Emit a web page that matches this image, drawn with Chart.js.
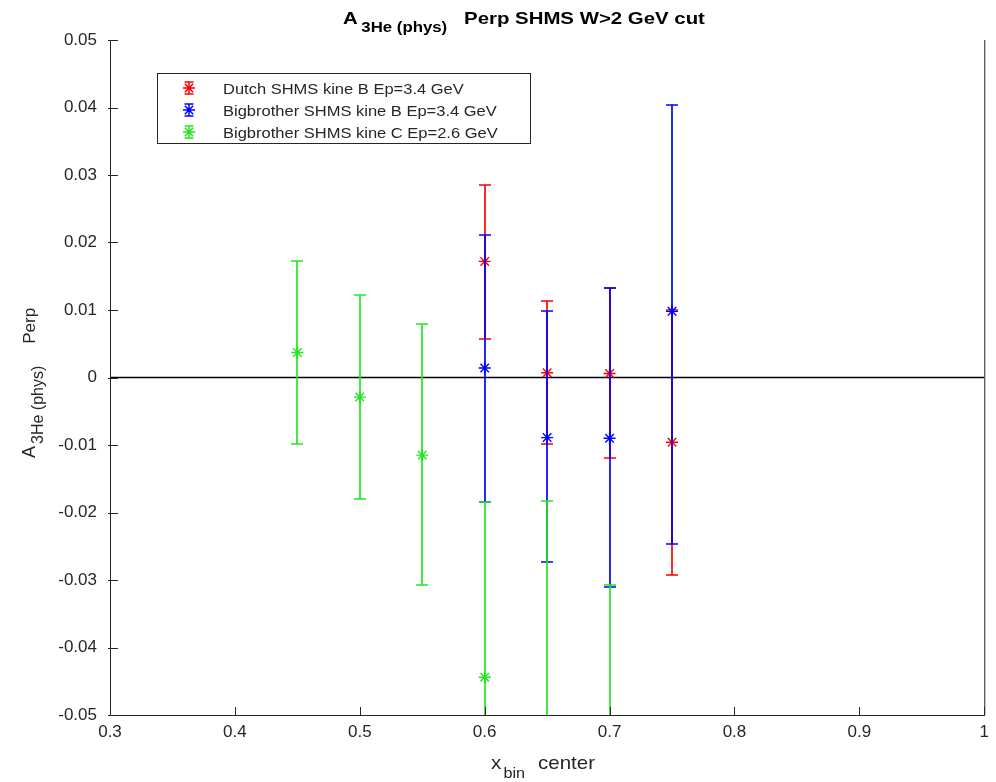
<!DOCTYPE html>
<html>
<head>
<meta charset="utf-8">
<script src="https://cdn.jsdelivr.net/npm/chart.js@4"></script>
<style>
	body { margin: 0; background: #fff; }
	#wrap { width: 996px; height: 782px; }
</style>
</head>
<body>
<div id="wrap"><canvas id="my-chart"></canvas></div>
<script>
//Data

const xTicks = [0.3, 0.4, 0.5, 0.6, 0.7, 0.8, 0.9, 1];
const yTicks = [-0.05, -0.04, -0.03, -0.02, -0.01, 0, 0.01, 0.02, 0.03, 0.04, 0.05];

const dutchX = [0.6, 0.65, 0.7, 0.75];
const dutchY = [0.0172, 0.0007, 0.0006, -0.0096];
const dutchLow = [0.0057, -0.0099, -0.012, -0.0292];
const dutchHigh = [0.0285, 0.0114, 0.0132, 0.01];

const bigBX = [0.6, 0.65, 0.7, 0.75];
const bigBY = [0.0014, -0.0089, -0.009, 0.0098];
const bigBLow = [-0.0185, -0.0274, -0.0311, -0.0246];
const bigBHigh = [0.0211, 0.0098, 0.0133, 0.0403];

const bigCX = [0.45, 0.5, 0.55, 0.6, 0.65, 0.7];
const bigCY = [0.0037, -0.0029, -0.0115, -0.0444, -0.06, -0.068];
const bigCLow = [-0.0098, -0.018, -0.0307, -0.0703, -0.1017, -0.1053];
const bigCHigh = [0.0173, 0.0122, 0.0079, -0.0185, -0.0183, -0.0307];

const zeroX = [0.3, 1];
const zeroY = [0, 0];

const seriesLabels = [
	"Dutch SHMS kine B Ep=3.4 GeV",
	"Bigbrother SHMS kine B Ep=3.4 GeV",
	"Bigbrother SHMS kine C Ep=2.6 GeV",
];
const seriesColors = ["#ff0000", "#0000ff", "#1fe81f"];

const FONT = "'Liberation Sans', Arial, sans-serif";
const INK = "#262626";

function points(xs, ys) {
	return xs.map((x, i) => ({ x: x, y: ys[i] }));
}

// text with sub parts: parts = [{t, size, bold, dy, gap}]
function drawRich(ctx, parts, x, y, sx, rotate) {
	ctx.save();
	ctx.translate(x, y);
	if (rotate) ctx.rotate(-Math.PI / 2);
	ctx.scale(sx, 1);
	ctx.textBaseline = "alphabetic";
	ctx.textAlign = "left";
	let cx = 0;
	for (const p of parts) {
		ctx.font = (p.bold ? "bold " : "") + p.size + "px " + FONT;
		ctx.fillText(p.t, cx, p.dy || 0);
		cx += ctx.measureText(p.t).width + (p.gap || 0);
	}
	ctx.restore();
}

const errorBars = {
	id: "errorBars",
	beforeDatasetDraw(chart, args) {
		const ds = chart.data.datasets[args.index];
		if (!ds.low) return;
		const ctx = chart.ctx;
		const a = chart.chartArea;
		const xs = chart.scales.x;
		const ys = chart.scales.y;
		ctx.save();
		ctx.beginPath();
		ctx.rect(a.left, a.top, a.right - a.left, a.bottom - a.top);
		ctx.clip();
		ctx.strokeStyle = ds.borderColor;
		ds.data.forEach((p, i) => {
			const px = Math.round(xs.getPixelForValue(p.x));
			const lo = Math.round(ys.getPixelForValue(ds.low[i]));
			const hi = Math.round(ys.getPixelForValue(ds.high[i]));
			ctx.lineWidth = 1.7;
			ctx.beginPath();
			ctx.moveTo(px, lo);
			ctx.lineTo(px, hi);
			ctx.stroke();
			ctx.lineWidth = 1.5;
			ctx.beginPath();
			ctx.moveTo(px - 6, lo);
			ctx.lineTo(px + 6, lo);
			ctx.moveTo(px - 6, hi);
			ctx.lineTo(px + 6, hi);
			ctx.stroke();
		});
		ctx.restore();
	},
	afterDraw(chart) {
		const ctx = chart.ctx;
		const a = chart.chartArea;
		const xs = chart.scales.x;
		const ys = chart.scales.y;

		// axes and inside ticks
		ctx.save();
		ctx.strokeStyle = INK;
		ctx.lineWidth = 1;
		ctx.beginPath();
		ctx.moveTo(a.left + 0.5, a.top);
		ctx.lineTo(a.left + 0.5, a.bottom + 0.5);
		ctx.lineTo(a.right + 0.5, a.bottom + 0.5);
		ctx.moveTo(a.right + 0.5, a.bottom + 0.5);
		ctx.lineTo(a.right + 0.5, a.top);
		yTicks.forEach((v) => {
			const py = Math.round(ys.getPixelForValue(v)) + 0.5;
			ctx.moveTo(a.left - 2, py);
			ctx.lineTo(a.left + 8, py);
		});
		xTicks.forEach((v) => {
			const px = Math.round(xs.getPixelForValue(v)) + 0.5;
			ctx.moveTo(px, a.bottom);
			ctx.lineTo(px, a.bottom - 8);
		});
		ctx.stroke();
		ctx.restore();

		// title
		ctx.fillStyle = "#000";
		drawRich(ctx, [
			{ t: "A", size: 17, bold: true, gap: 3 },
			{ t: "3He (phys)", size: 14, bold: true, dy: 8, gap: 14 },
			{ t: "Perp SHMS W>2 GeV cut", size: 17, bold: true },
		], 343, 24, 1.2, false);

		// y label
		ctx.fillStyle = INK;
		drawRich(ctx, [
			{ t: "A", size: 18, gap: 2 },
			{ t: "3He (phys)", size: 16, dy: 8, gap: 22 },
			{ t: "Perp", size: 17 },
		], 35, 458, 1, true);

		// x label
		drawRich(ctx, [
			{ t: "x", size: 19, gap: 2 },
			{ t: "bin", size: 15, dy: 9, gap: 12 },
			{ t: "center", size: 19 },
		], 491, 769, 1.08, false);

		// legend
		ctx.save();
		ctx.fillStyle = "#fff";
		ctx.fillRect(157, 73, 373, 70);
		ctx.strokeStyle = INK;
		ctx.lineWidth = 1;
		ctx.strokeRect(157.5, 73.5, 373, 70);
		seriesLabels.forEach((lab, i) => {
			const cy = 88 + i * 22;
			const mx = 189;
			ctx.strokeStyle = seriesColors[i];
			ctx.lineWidth = 1.5;
			ctx.beginPath();
			ctx.moveTo(mx, cy - 6);
			ctx.lineTo(mx, cy + 6);
			ctx.moveTo(mx - 4.5, cy - 6);
			ctx.lineTo(mx + 4.5, cy - 6);
			ctx.moveTo(mx - 4.5, cy + 6);
			ctx.lineTo(mx + 4.5, cy + 6);
			ctx.moveTo(mx - 6, cy);
			ctx.lineTo(mx + 6, cy);
			ctx.moveTo(mx - 4.2, cy - 4.2);
			ctx.lineTo(mx + 4.2, cy + 4.2);
			ctx.moveTo(mx - 4.2, cy + 4.2);
			ctx.lineTo(mx + 4.2, cy - 4.2);
			ctx.stroke();
			ctx.fillStyle = INK;
			drawRich(ctx, [{ t: lab, size: 15 }], 223, cy + 5.5, 1.1, false);
		});
		ctx.restore();
	},
};

Chart.defaults.font.family = FONT;
Chart.defaults.color = INK;

function makeSet(i, xs, ys, lo, hi, order) {
	return {
		label: seriesLabels[i],
		data: points(xs, ys),
		low: lo,
		high: hi,
		showLine: false,
		borderColor: seriesColors[i],
		backgroundColor: seriesColors[i],
		pointStyle: "star",
		pointRadius: 6,
		pointBorderWidth: 1.4,
		order: order,
	};
}

const ctx = document.getElementById("my-chart").getContext("2d");

const data = {
	datasets: [
		makeSet(0, dutchX, dutchY, dutchLow, dutchHigh, 3),
		makeSet(1, bigBX, bigBY, bigBLow, bigBHigh, 2),
		makeSet(2, bigCX, bigCY, bigCLow, bigCHigh, 1),
		{
			label: "zero",
			data: points(zeroX, zeroY),
			showLine: true,
			borderColor: "#000",
			borderWidth: 1.3,
			pointRadius: 0,
			order: 4,
		},
	],
};

const config = {
	type: "scatter",
	data: data,
	options: {
		responsive: true,
		maintainAspectRatio: false,
		animation: false,
		devicePixelRatio: 1,
		layout: { padding: { left: 0, right: 11, top: 40, bottom: 0 } },
		plugins: {
			legend: { display: false },
			tooltip: { enabled: false },
			title: { display: false },
		},
		scales: {
			x: {
				type: "linear",
				min: 0.3,
				max: 1,
				afterBuildTicks: (s) => { s.ticks = xTicks.map((v) => ({ value: v })); },
				afterFit: (s) => { s.height = 67; },
				grid: { display: false, drawTicks: false },
				border: { display: false },
				ticks: {
					padding: 7,
					font: { size: 17 },
					color: INK,
					callback: (v) => String(Math.round(v * 10) / 10),
				},
			},
			y: {
				type: "linear",
				min: -0.05,
				max: 0.05,
				afterBuildTicks: (s) => { s.ticks = yTicks.map((v) => ({ value: v })); },
				afterFit: (s) => { s.width = 110; },
				grid: { display: false, drawTicks: false },
				border: { display: false },
				ticks: {
					padding: 13,
					font: { size: 17 },
					color: INK,
					callback: (v) => String(Math.round(v * 100) / 100),
				},
			},
		},
	},
	plugins: [errorBars],
};

new Chart(ctx, config);
</script>
</body>
</html>
